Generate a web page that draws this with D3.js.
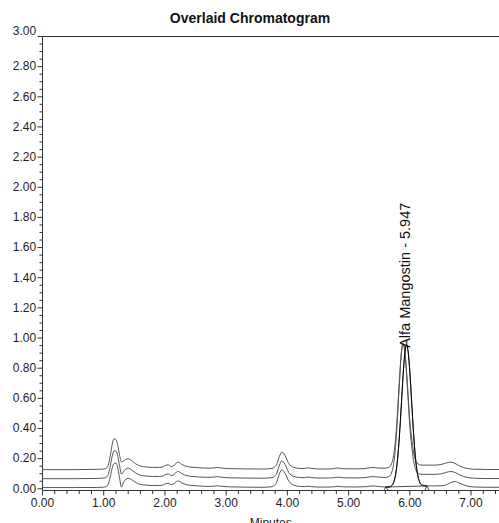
<!DOCTYPE html>
<html><head><meta charset="utf-8">
<script src="https://cdn.jsdelivr.net/npm/d3@7"></script>
<style>
html,body{margin:0;padding:0;background:#fff;}
svg{display:block;font-family:"Liberation Sans",Arial,Helvetica,sans-serif;}
</style></head><body>
<svg id="chart" width="499" height="523"></svg>
<script>
// ---- data ----
const chartTitle = "Overlaid Chromatogram";
const xAxisTitle = "Minutes";

const times = [
  0.00,0.50,0.90,1.00,1.05,1.08,1.11,1.14,1.17,1.20,
  1.23,1.26,1.29,1.32,1.36,1.40,1.45,1.50,1.55,1.60,
  1.70,1.80,1.90,1.97,2.02,2.06,2.10,2.15,2.19,2.22,
  2.27,2.32,2.40,2.55,2.70,2.80,2.86,2.92,3.05,3.30,
  3.60,3.75,3.82,3.87,3.91,3.96,4.02,4.10,4.20,4.28,
  4.34,4.40,4.55,4.72,4.82,4.92,5.10,5.28,5.39,5.50,
  5.60,5.66,5.70,5.735,5.77,5.80,5.83,5.86,5.89,5.92,
  5.947,5.975,6.00,6.03,6.06,6.09,6.12,6.16,6.20,6.28,
  6.40,6.52,6.60,6.67,6.74,6.82,6.92,7.05,7.25,7.46
];

const traceTop = [
  0.127,0.127,0.129,0.131,0.139,0.167,0.227,0.297,0.332,0.327,
  0.287,0.222,0.179,0.183,0.195,0.199,0.189,0.172,0.159,0.151,
  0.144,0.142,0.142,0.145,0.157,0.159,0.148,0.155,0.173,0.177,
  0.163,0.153,0.145,0.140,0.137,0.138,0.142,0.138,0.134,0.132,
  0.131,0.135,0.157,0.215,0.244,0.222,0.169,0.143,0.135,0.135,
  0.139,0.135,0.131,0.132,0.138,0.133,0.132,0.135,0.142,0.137,
  0.137,0.144,0.165,0.220,0.344,0.516,0.722,0.897,0.965,0.908,
  0.777,0.604,0.453,0.336,0.245,0.194,0.171,0.160,0.157,0.157,
  0.157,0.162,0.172,0.177,0.168,0.150,0.136,0.130,0.128,0.128
];

const traceMiddle = [
  0.067,0.067,0.069,0.071,0.078,0.103,0.157,0.219,0.253,0.251,
  0.215,0.152,0.097,0.112,0.131,0.137,0.127,0.111,0.098,0.090,
  0.084,0.082,0.082,0.085,0.097,0.098,0.088,0.095,0.112,0.115,
  0.102,0.092,0.084,0.079,0.076,0.077,0.081,0.077,0.073,0.071,
  0.070,0.074,0.097,0.157,0.186,0.163,0.110,0.083,0.075,0.074,
  0.078,0.074,0.071,0.072,0.077,0.073,0.072,0.075,0.081,0.077,
  0.075,0.082,0.105,0.163,0.296,0.480,0.698,0.886,0.960,0.899,
  0.760,0.575,0.414,0.286,0.188,0.135,0.110,0.099,0.096,0.096,
  0.096,0.100,0.109,0.115,0.108,0.091,0.077,0.070,0.068,0.068
];

const traceBottom = [
  0.008,0.008,0.009,0.011,0.017,0.038,0.086,0.140,0.168,0.170,
  0.138,0.068,0.011,0.038,0.063,0.070,0.062,0.048,0.036,0.029,
  0.024,0.022,0.022,0.025,0.035,0.037,0.027,0.034,0.049,0.052,
  0.040,0.031,0.024,0.019,0.016,0.017,0.020,0.017,0.013,0.011,
  0.010,0.014,0.038,0.100,0.126,0.105,0.053,0.025,0.016,0.014,
  0.017,0.014,0.011,0.012,0.016,0.013,0.012,0.014,0.019,0.015,
  0.012,0.012,0.019,0.041,0.100,0.198,0.350,0.547,0.752,0.905,
  0.955,0.901,0.777,0.575,0.375,0.215,0.112,0.045,0.024,0.019,
  0.019,0.020,0.027,0.042,0.048,0.036,0.020,0.012,0.010,0.010
];

const peakNames   = ["Alfa Mangostin"];
const peakTimes   = [5.947];
const peakHeights = [0.955];
const peakStarts  = [5.61];
const peakEnds    = [6.28];

const yTickValues = [0.00,0.20,0.40,0.60,0.80,1.00,1.20,1.40,1.60,1.80,2.00,2.20,2.40,2.60,2.80,3.00];
const yTickLabels = ["0.00","0.20","0.40","0.60","0.80","1.00","1.20","1.40","1.60","1.80","2.00","2.20","2.40","2.60","2.80","3.00"];
const xTickValues = [0,1,2,3,4,5,6,7];
const xTickLabels = ["0.00","1.00","2.00","3.00","4.00","5.00","6.00","7.00"];

// ---- drawing ----
(function () {
const svg = d3.select("#chart");
const pLeft = 42.5, pRight = 499.2, pTop = 36.5, pBottom = 490.5;

const x = d3.scaleLinear().domain([0, 7.46]).range([pLeft, pRight]);
const y = d3.scaleLinear().domain([-0.0113, 3.0]).range([pBottom, pTop]);

const axisColor = "#333";
const textColor = "#1e1e1e";

// title
svg.append("text")
  .attr("x", 250).attr("y", 23.3)
  .attr("text-anchor", "middle")
  .attr("font-size", 14).attr("font-weight", "bold")
  .attr("fill", "#111")
  .text(chartTitle);

// top border
svg.append("line")
  .attr("x1", pLeft).attr("x2", 499).attr("y1", pTop).attr("y2", pTop)
  .attr("stroke", axisColor).attr("stroke-width", 1);

// y axis minor
const yMinor = d3.range(0, 3.0001, 0.05).filter(v => Math.abs(Math.round(v*5) - v*5) > 1e-6);
svg.append("g").attr("transform", `translate(${pLeft},0)`)
  .call(d3.axisLeft(y).tickValues(yMinor).tickSize(3).tickFormat("").offset(0))
  .call(g => g.select(".domain").remove())
  .call(g => g.selectAll("line").attr("stroke", axisColor));

// y axis major
const gy = svg.append("g").attr("transform", `translate(${pLeft},0)`)
  .call(d3.axisLeft(y).tickValues(yTickValues).tickSize(5).tickSizeOuter(0).tickPadding(1.3).offset(0)
    .tickFormat((d,i) => yTickLabels[i]));
gy.attr("font-family", null);
gy.select(".domain").attr("stroke", axisColor);
gy.selectAll("line").attr("stroke", axisColor);
gy.selectAll("text").attr("font-size", 12).attr("fill", textColor);
gy.selectAll(".tick").filter(d => d === 3.0).select("text").attr("dy", "-0.1em");

// x axis minor
const xMinor = d3.range(0, 7.4601, 0.2).filter(v => Math.abs(Math.round(v) - v) > 1e-6);
svg.append("g").attr("transform", `translate(0,${pBottom})`)
  .call(d3.axisBottom(x).tickValues(xMinor).tickSize(3.5).tickFormat("").offset(0))
  .call(g => g.select(".domain").remove())
  .call(g => g.selectAll("line").attr("stroke", axisColor));

// x axis major
const gx = svg.append("g").attr("transform", `translate(0,${pBottom})`)
  .call(d3.axisBottom(x).tickValues(xTickValues).tickSize(5).tickSizeOuter(0).tickPadding(3).offset(0)
    .tickFormat((d,i) => xTickLabels[i]));
gx.attr("font-family", null);
gx.select(".domain").attr("stroke", axisColor);
gx.selectAll("line").attr("stroke", axisColor);
gx.selectAll("text").attr("font-size", 12).attr("fill", textColor);

// x axis title (partly below the visible area, as in the reference)
svg.append("text")
  .attr("x", (pLeft + 499) / 2).attr("y", 527)
  .attr("text-anchor", "middle").attr("font-size", 12).attr("fill", textColor)
  .text(xAxisTitle);

// traces
svg.append("clipPath").attr("id", "plotClip").append("rect")
  .attr("x", pLeft).attr("y", pTop).attr("width", 499 - pLeft).attr("height", pBottom - pTop);

const line = d3.line().x(d => x(d[0])).y(d => y(d[1])).curve(d3.curveMonotoneX);
const traces = [traceTop, traceMiddle, traceBottom];
const plot = svg.append("g").attr("clip-path", "url(#plotClip)");
traces.forEach(tr => {
  plot.append("path")
    .datum(times.map((t, i) => [t, tr[i]]))
    .attr("d", line)
    .attr("fill", "none").attr("stroke", "#555").attr("stroke-width", 1);
});

// integrated peak (drawn in black on the bottom trace) with baseline and markers
peakNames.forEach((name, k) => {
  const seg = times.map((t, i) => [t, traceBottom[i]]).filter(d => d[0] >= peakStarts[k] - 0.011 && d[0] <= peakEnds[k] + 0.001);
  plot.append("path").datum(seg).attr("d", line)
    .attr("fill", "none").attr("stroke", "#000").attr("stroke-width", 1);
  const b0 = seg[0][1], b1 = seg[seg.length - 1][1];
  plot.append("line")
    .attr("x1", x(peakStarts[k])).attr("x2", x(peakEnds[k]))
    .attr("y1", y(b0)).attr("y2", y(b1))
    .attr("stroke", "#222").attr("stroke-width", 0.8);
  [[peakStarts[k], b0], [peakEnds[k], b1]].forEach(([t, v]) => {
    const cx = x(t), cy = y(v);
    svg.append("path")
      .attr("d", `M${cx},${cy} L${cx - 2.2},${pBottom} L${cx + 2.2},${pBottom} Z`)
      .attr("fill", "none").attr("stroke", "#333").attr("stroke-width", 0.9);
  });
  svg.append("text")
    .attr("transform", `translate(${x(peakTimes[k]) + 3.6},${y(peakHeights[k]) + 3}) rotate(-90)`)
    .attr("font-size", 14.5).attr("fill", "#111")
    .text(`${name} - ${peakTimes[k].toFixed(3)}`);
});
})();
</script>
</body></html>
